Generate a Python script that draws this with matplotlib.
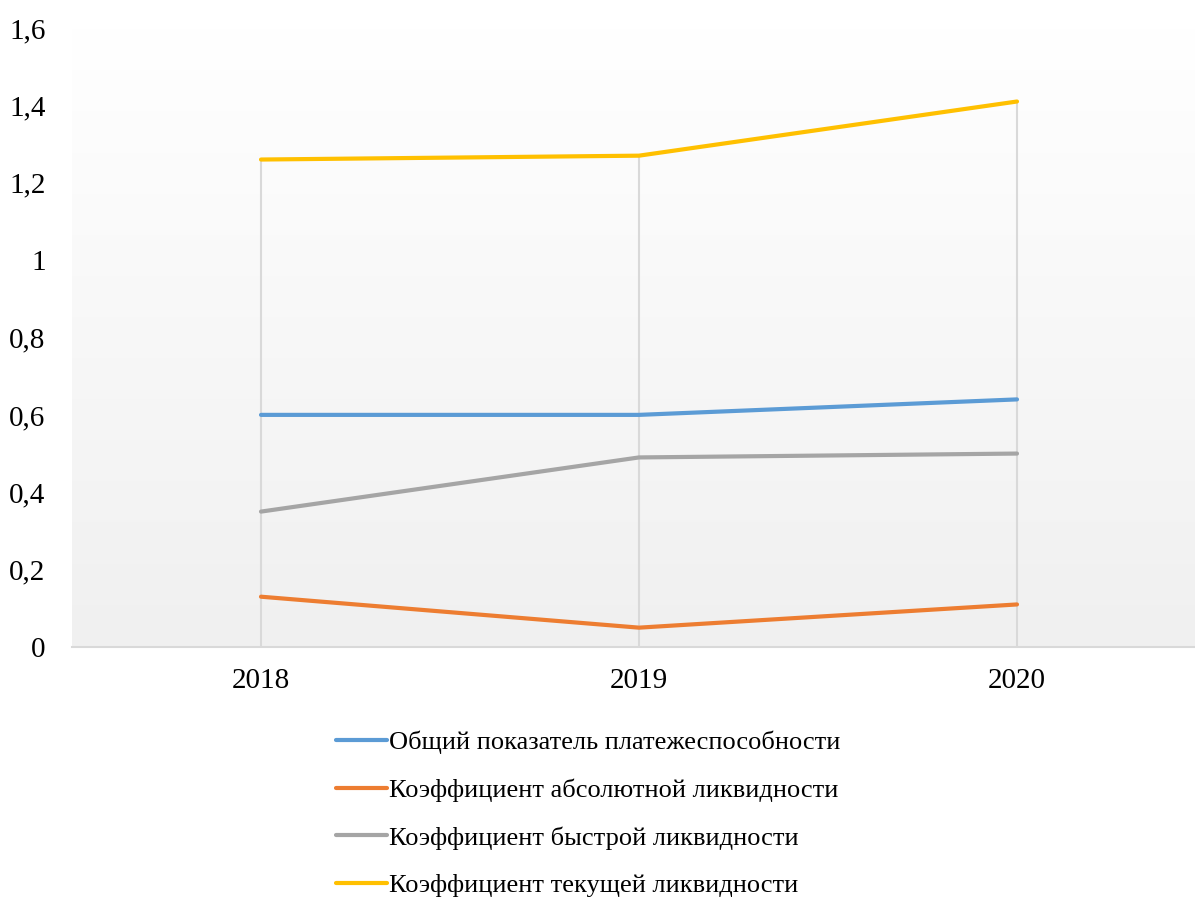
import numpy as np
import matplotlib.pyplot as plt
from matplotlib.colors import LinearSegmentedColormap

# --- Data ---
years = ['2018', '2019', '2020']
obshchiy = [0.60, 0.60, 0.64]
absolyutnoy = [0.13, 0.05, 0.11]
bystroy = [0.35, 0.49, 0.50]
tekushchey = [1.26, 1.27, 1.41]

labels = ['Общий показатель платежеспособности',
          'Коэффициент абсолютной ликвидности',
          'Коэффициент быстрой ликвидности',
          'Коэффициент текущей ликвидности']
colors = ['#5B9BD5', '#ED7D31', '#A5A5A5', '#FFC000']
yticks = [0, 0.2, 0.4, 0.6, 0.8, 1.0, 1.2, 1.4, 1.6]
ytick_labels = ['0', '0,2', '0,4', '0,6', '0,8', '1', '1,2', '1,4', '1,6']

plt.rcParams['font.family'] = ['Liberation Serif', 'DejaVu Serif']

fig = plt.figure(figsize=(11.95, 8.98), dpi=100)
W, H = 1195, 898
left, right, top, bottom = 72, 1206, 28, 647
ax = fig.add_axes([left / W, (H - bottom) / H, (right - left) / W, (bottom - top) / H])

# gradient background (white at top -> light gray at bottom)
grad = np.linspace(0, 1, 256).reshape(-1, 1)
ax.imshow(grad, extent=[0, 1, 0, 1], transform=ax.transAxes, aspect='auto',
          cmap=LinearSegmentedColormap.from_list('bg', ['#f0f0f0', '#ffffff']),
          origin='lower', zorder=0)

x = np.arange(len(years))
series = [obshchiy, absolyutnoy, bystroy, tekushchey]

# drop lines from the highest point down to the axis
tops = np.max(np.array(series), axis=0)
ax.vlines(x, 0, tops, color='#d9d9d9', linewidth=1.5, zorder=1)

for vals, lab, col in zip(series, labels, colors):
    ax.plot(x, vals, color=col, linewidth=3, label=lab, zorder=3,
            solid_capstyle='round')

ax.set_xlim(-0.5, 2.5)
ax.set_ylim(0, 1.6)
ax.set_xticks(x)
ax.set_xticklabels(years, fontsize=21)
ax.set_yticks(yticks)
ax.set_yticklabels(ytick_labels, fontsize=21)
ax.tick_params(axis='both', length=0)
ax.tick_params(axis='y', pad=19)
ax.tick_params(axis='x', pad=15)

for s in ['top', 'right', 'left']:
    ax.spines[s].set_visible(False)
ax.spines['bottom'].set_color('#d9d9d9')
ax.spines['bottom'].set_linewidth(1.5)

fig.legend(loc='upper center', bbox_to_anchor=(0.4925, 1 - 720 / H), ncol=1,
           frameon=False, fontsize=19, handlelength=1.93, handletextpad=0.08,
           labelspacing=0.92, borderaxespad=0)

fig.savefig('out.png', dpi=100)
